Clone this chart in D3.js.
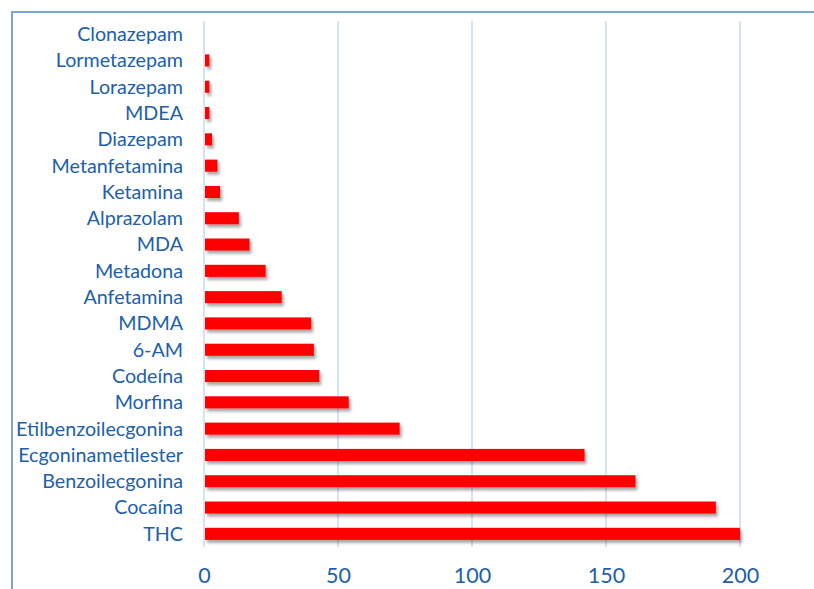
<!DOCTYPE html>
<html><head><meta charset="utf-8">
<script src="https://cdn.jsdelivr.net/npm/d3@7"></script>
<style>
html,body{margin:0;padding:0;background:#fff;}
svg{display:block;}
</style></head>
<body>
<script>
const categories = ["Clonazepam","Lormetazepam","Lorazepam","MDEA","Diazepam","Metanfetamina","Ketamina","Alprazolam","MDA","Metadona","Anfetamina","MDMA","6-AM","Codeína","Morfina","Etilbenzoilecgonina","Ecgoninametilester","Benzoilecgonina","Cocaína","THC"];
const values = [0,2,2,2,3,5,6,13,17,23,29,40,41,43,54,73,142,161,191,200];
const xTicks = [0,50,100,150,200];

const W = 814, H = 589;
const textColor = "#2060aa";
const font = "Lato, 'Open Sans', sans-serif";

const svg = d3.select("body").append("svg").attr("width", W).attr("height", H);

const defs = svg.append("defs");
const f = defs.append("filter").attr("id","shadow").attr("x","-10%").attr("y","-50%").attr("width","130%").attr("height","250%");
f.append("feDropShadow").attr("dx",2).attr("dy",3).attr("stdDeviation",1.8).attr("flood-color","#000").attr("flood-opacity",0.35);

// frame
svg.append("rect").attr("x",12).attr("y",12).attr("width",W+20).attr("height",H+20)
  .attr("fill","none").attr("stroke","#7ea3d4").attr("stroke-width",2);

const x = d3.scaleLinear().domain([0,200]).range([204,740]);
const y = d3.scaleBand().domain(categories).range([21,547]).paddingInner(0.54).paddingOuter(0.27);

// gridlines
svg.append("g").selectAll("line").data(xTicks).join("line")
  .attr("x1", d=>x(d)).attr("x2", d=>x(d)).attr("y1",21).attr("y2",547)
  .attr("stroke","#d6e3f3").attr("stroke-width",2);

// bars
svg.append("g").attr("filter","url(#shadow)").selectAll("rect").data(categories).join("rect")
  .attr("x", x(0)+1).attr("y", d=>y(d))
  .attr("width", (d,i)=>Math.max(0, x(values[i])-x(0)-1))
  .attr("height", y.bandwidth())
  .attr("fill","#ff0000");

// y labels
const yAxis = svg.append("g").attr("transform","translate(183,0)")
  .call(d3.axisLeft(y).tickSize(0).tickPadding(0));
yAxis.select(".domain").remove();
yAxis.selectAll("text").attr("fill",textColor).style("font-family",font).style("font-size","19.7px").attr("dy","0.35em");

// x labels
const xAxis = svg.append("g").attr("transform","translate(0,565)")
  .call(d3.axisBottom(x).tickValues(xTicks).tickSize(0).tickPadding(0));
xAxis.select(".domain").remove();
xAxis.selectAll("text").attr("fill",textColor).style("font-family",font).style("font-size","21.5px").attr("dy","0.85em");
</script>
</body></html>
